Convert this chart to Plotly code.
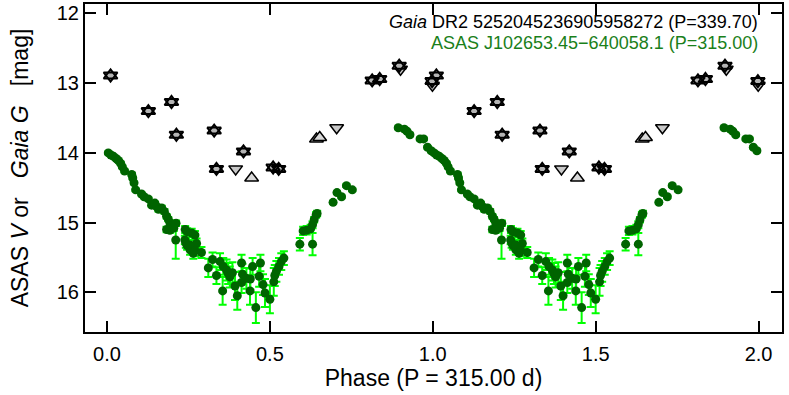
import plotly.graph_objects as go

# ASAS V photometry: phase (0-1), magnitude, error
asas_phase = [0.004, 0.012, 0.020, 0.028, 0.035, 0.042, 0.047, 0.054, 0.076, 0.079,
              0.083, 0.088, 0.106, 0.114, 0.127, 0.137, 0.147, 0.152, 0.158, 0.168,
              0.176, 0.183, 0.188, 0.193, 0.198, 0.212, 0.183, 0.193, 0.205, 0.211,
              0.240, 0.246, 0.239, 0.246, 0.255, 0.270, 0.275, 0.260, 0.242, 0.255,
              0.270, 0.290, 0.265,
              0.311, 0.324, 0.336, 0.347, 0.355, 0.357, 0.367, 0.372, 0.377, 0.385,
              0.393, 0.400, 0.413, 0.416, 0.413, 0.428, 0.440, 0.439, 0.447, 0.457,
              0.467, 0.471, 0.479, 0.485, 0.500, 0.512, 0.515, 0.520, 0.528, 0.535,
              0.543,
              0.592, 0.631, 0.602, 0.613, 0.625, 0.631, 0.636, 0.642, 0.645,
              0.694, 0.706, 0.720, 0.735, 0.753,
              0.894, 0.913, 0.921, 0.930, 0.961, 0.972, 0.984, 0.995]
asas_mag = [14.00, 14.03, 14.05, 14.08, 14.11, 14.15, 14.20, 14.26, 14.31, 14.36,
            14.43, 14.53, 14.59, 14.63, 14.66, 14.75, 14.72, 14.77, 14.81, 14.79,
            14.84, 14.91, 14.95, 15.00, 15.05, 15.01, 15.10, 15.11, 15.08, 15.25,
            15.10, 15.13, 15.25, 15.33, 15.39, 15.18, 15.30, 15.15, 15.29, 15.32,
            15.40, 15.43, 15.44,
            15.65, 15.53, 15.76, 15.56, 15.98, 15.63, 15.68, 15.73, 15.78, 15.72,
            15.91, 16.05, 15.58, 15.74, 15.86, 15.80, 15.81, 15.98, 15.63, 16.22,
            15.77, 15.58, 15.89, 16.01, 16.10, 15.85, 15.76, 15.70, 15.63, 15.56,
            15.51,
            15.31, 15.31, 15.12, 15.11, 15.09, 15.03, 14.96, 14.89, 14.87,
            14.71, 14.57, 14.63, 14.47, 14.53,
            13.64, 13.66, 13.69, 13.74, 13.80, 13.80, 13.92, 13.97]
asas_err = [0.02, 0.02, 0.02, 0.02, 0.02, 0.02, 0.02, 0.02, 0.02, 0.02,
            0.02, 0.02, 0.02, 0.02, 0.02, 0.02, 0.02, 0.02, 0.03, 0.03,
            0.03, 0.03, 0.03, 0.03, 0.04, 0.04, 0.04, 0.04, 0.04, 0.27,
            0.05, 0.05, 0.06, 0.06, 0.07, 0.06, 0.07, 0.06, 0.07, 0.07,
            0.08, 0.08, 0.08,
            0.13, 0.10, 0.12, 0.12, 0.20, 0.12, 0.15, 0.15, 0.15, 0.15,
            0.20, 0.20, 0.12, 0.15, 0.15, 0.15, 0.15, 0.20, 0.12, 0.22,
            0.15, 0.12, 0.15, 0.20, 0.20, 0.20, 0.15, 0.15, 0.12, 0.12,
            0.10,
            0.09, 0.16, 0.06, 0.06, 0.06, 0.05, 0.04, 0.04, 0.04,
            0.02, 0.02, 0.02, 0.02, 0.02,
            0.02, 0.02, 0.02, 0.02, 0.02, 0.02, 0.02, 0.02]

# Gaia G photometry: phase (0-1), magnitude, by marker kind
gaia_star_phase = [0.011, 0.127, 0.198, 0.213, 0.329, 0.336, 0.419, 0.510, 0.527,
                   0.814, 0.837, 0.897, 0.998]
gaia_star_mag = [12.89, 13.40, 13.27, 13.74, 13.68, 14.23, 13.98, 14.21, 14.23,
                 12.96, 12.94, 12.75, 12.97]
gaia_down_phase = [0.395, 0.705, 0.901, 0.999]
gaia_down_mag = [14.23, 13.64, 12.80, 13.03]
gaia_up_phase = [0.444, 0.643, 0.653]
gaia_up_mag = [14.36, 13.80, 13.78]

x_ticks = [0.0, 0.5, 1.0, 1.5, 2.0]
y_ticks = [12, 13, 14, 15, 16]


def two_cycles(vals):
    return list(vals) + [v + 1 for v in vals]


fig = go.Figure()

fig.add_trace(go.Scatter(
    x=two_cycles(asas_phase), y=asas_mag + asas_mag,
    mode="markers",
    marker=dict(color="#006400", size=9, line=dict(width=0)),
    error_y=dict(type="data", array=asas_err + asas_err, color="#00ff00",
                 thickness=2, width=4),
    showlegend=False,
))

fig.add_trace(go.Scatter(
    x=two_cycles(gaia_down_phase), y=gaia_down_mag + gaia_down_mag,
    mode="markers",
    marker=dict(symbol="triangle-down", size=12, color="#c8c8c8",
                line=dict(color="black", width=1.5)),
    showlegend=False,
))
fig.add_trace(go.Scatter(
    x=two_cycles(gaia_up_phase), y=gaia_up_mag + gaia_up_mag,
    mode="markers",
    marker=dict(symbol="triangle-up", size=12, color="#d8d8d8",
                line=dict(color="black", width=1.5)),
    showlegend=False,
))

# Star-of-David markers: gray filled triangles, then black outlines on top
star_x = two_cycles(gaia_star_phase)
star_y = gaia_star_mag + gaia_star_mag
for sym in ["triangle-up", "triangle-down"]:
    fig.add_trace(go.Scatter(
        x=star_x, y=star_y, mode="markers",
        marker=dict(symbol=sym, size=12, color="#b4b4b4", line=dict(width=0)),
        showlegend=False, hoverinfo="skip",
    ))
for sym in ["triangle-up-open", "triangle-down-open"]:
    fig.add_trace(go.Scatter(
        x=star_x, y=star_y, mode="markers",
        marker=dict(symbol=sym, size=12, color="black", line=dict(width=2, color="black")),
        showlegend=False, hoverinfo="skip",
    ))

font_family = "Liberation Sans, Arial, Helvetica, sans-serif"

fig.add_annotation(
    xref="paper", yref="paper", x=0.968, y=0.946, xanchor="right", yanchor="middle",
    text="<i>Gaia</i> DR2 5252045236905958272 (P=339.70)", showarrow=False,
    font=dict(family=font_family, size=18, color="black"),
)
fig.add_annotation(
    xref="paper", yref="paper", x=0.968, y=0.880, xanchor="right", yanchor="middle",
    text="ASAS J102653.45\u2212640058.1 (P=315.00)", showarrow=False,
    font=dict(family=font_family, size=18, color="#1a801a"),
)

fig.update_layout(
    width=789, height=395,
    margin=dict(l=85, r=6.5, t=4, b=63),
    plot_bgcolor="white", paper_bgcolor="white",
    font=dict(family=font_family, size=20, color="black"),
)
fig.update_xaxes(
    range=[-0.0675, 2.072], tickvals=x_ticks, tickformat=".1f",
    ticks="inside", ticklen=11, tickwidth=2, tickcolor="black",
    ticklabelstandoff=3,
    showline=True, linewidth=2, linecolor="black", mirror="ticks",
    showgrid=False, zeroline=False, automargin=False,
    title=dict(text="Phase (P = 315.00 d)", standoff=5,
               font=dict(family=font_family, size=23)),
)
fig.update_yaxes(
    range=[16.57, 11.864], tickvals=y_ticks,
    ticks="inside", ticklen=11, tickwidth=2, tickcolor="black",
    ticklabeloverflow="allow",
    showline=True, linewidth=2, linecolor="black", mirror="ticks",
    showgrid=False, zeroline=False, automargin=False,
    title=dict(text="ASAS <i>V</i> or \u00a0\u00a0<i>Gaia G</i> \u00a0\u00a0[mag]", standoff=22,
               font=dict(family=font_family, size=23)),
)

# remove the browser's default 8 px body margin so the figure fills the window
fig.write_html("out.html", config={"displayModeBar": False},
               post_script="document.body.style.margin='0px';")
